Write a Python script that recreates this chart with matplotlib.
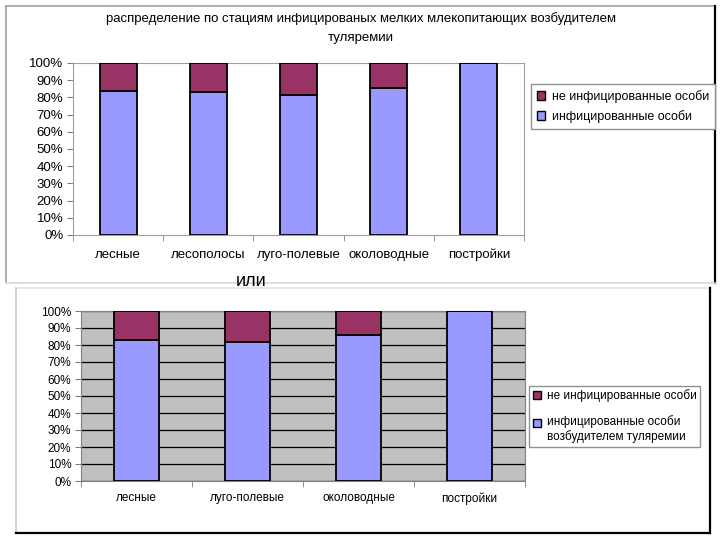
import matplotlib
matplotlib.use("Agg")
import matplotlib.pyplot as plt
from matplotlib.patches import Patch
from matplotlib.lines import Line2D
import numpy as np

plt.rcParams['font.family'] = ['Liberation Sans', 'DejaVu Sans']

# верхняя диаграмма
cats1 = ["лесные", "лесополосы", "луго-полевые", "околоводные", "постройки"]
inf1 = [84.0, 83.3, 81.2, 85.5, 100.0]
# нижняя диаграмма
cats2 = ["лесные", "луго-полевые", "околоводные", "постройки"]
inf2 = [83.1, 82.0, 85.7, 100.0]

title1 = "распределение по стациям инфицированых мелких млекопитающих возбудителем\nтуляремии"
lab_not = "не инфицированные особи"
lab_inf1 = "инфицированные особи"
lab_inf2 = "инфицированные особи\nвозбудителем туляремии"

c_inf = "#9999ff"
c_not = "#993366"

W, H = 720., 540.
fig = plt.figure(figsize=(7.2, 5.4), dpi=100)


def box(x0, y0, x1, y1):
    return [x0 / W, 1 - y1 / H, (x1 - x0) / W, (y1 - y0) / H]


def line(xs, ys, color, lw=1.2):
    fig.add_artist(Line2D([x / W for x in xs], [1 - y / H for y in ys],
                          color=color, lw=lw, transform=fig.transFigure))


def stacked(ax, cats, inf, tsize, xsize, pad):
    x = np.arange(len(cats))
    inf = np.array(inf)
    ax.bar(x, inf, width=0.41, color=c_inf, edgecolor="black", lw=1.3, zorder=3)
    ax.bar(x, 100 - inf, bottom=inf, width=0.41, color=c_not, edgecolor="black", lw=1.3, zorder=3)
    ax.set_xlim(-0.5, len(cats) - 0.5)
    ax.set_ylim(0, 100)
    ax.set_yticks(np.arange(0, 101, 10))
    ax.set_yticklabels(["%d%%" % v for v in range(0, 101, 10)], fontsize=tsize)
    ax.set_xticks(x)
    ax.set_xticklabels(cats, fontsize=xsize)
    ax.set_xticks(np.arange(-0.5, len(cats)), minor=True)
    ax.tick_params(axis="x", which="major", length=0, pad=pad)
    ax.tick_params(axis="x", which="minor", length=4, color="#808080")
    ax.tick_params(axis="y", length=4, color="#808080", pad=3)


# рамки
line([6, 715], [6, 6], "#a0a0a0")
line([6, 6], [6, 283], "#a0a0a0")
line([715, 715], [6, 283], "black", 1.6)
line([6, 715], [283, 283], "#d8d8d8")
line([16, 710], [288, 288], "#e4e4e4")
line([16, 16], [288, 533], "#c8c8c8")
line([710, 710], [288, 533], "black", 1.6)
line([16, 710], [533, 533], "black", 1.6)

# верхний график
ax1 = fig.add_axes(box(73, 63, 524, 235))
stacked(ax1, cats1, inf1, 9.5, 9.5, 10)
for s in ax1.spines.values():
    s.set_color("#a0a0a0")
fig.text(361 / W, 1 - 28 / H, title1, ha="center", va="center", fontsize=9.5,
         linespacing=1.75)
h = [Patch(facecolor=c_not, edgecolor="black"), Patch(facecolor=c_inf, edgecolor="black")]
fig.legend(h, [lab_not, lab_inf1], loc="upper left", bbox_to_anchor=(531 / W, 1 - 84 / H),
           fancybox=False, edgecolor="#909090", framealpha=1, fontsize=9,
           handlelength=0.7, handleheight=0.7, handletextpad=0.5, labelspacing=0.6,
           borderpad=0.45, borderaxespad=0)

fig.text(251 / W, 1 - 282 / H, "или", ha="center", va="center", fontsize=13)

# нижний график
ax2 = fig.add_axes(box(81, 311, 525, 481))
ax2.set_facecolor("#c0c0c0")
stacked(ax2, cats2, inf2, 8.5, 8.5, 8)
ax2.yaxis.grid(True, color="black", lw=0.9, zorder=1)
ax2.set_axisbelow(True)
for s in ax2.spines.values():
    s.set_color("#808080")
leg2 = fig.legend(h, [lab_not, lab_inf2], loc="upper left", bbox_to_anchor=(529 / W, 1 - 386 / H),
                  fancybox=False, edgecolor="#909090", framealpha=1, fontsize=8.5,
                  handlelength=0.7, handleheight=0.7, handletextpad=0.5, labelspacing=1.1,
                  borderpad=0.3, borderaxespad=0)
# маркер второго пункта на уровне первой строки
hp = leg2.legend_handles[1]
hp.set_y(hp.get_y() + 5)

fig.savefig("out.png", dpi=100)
